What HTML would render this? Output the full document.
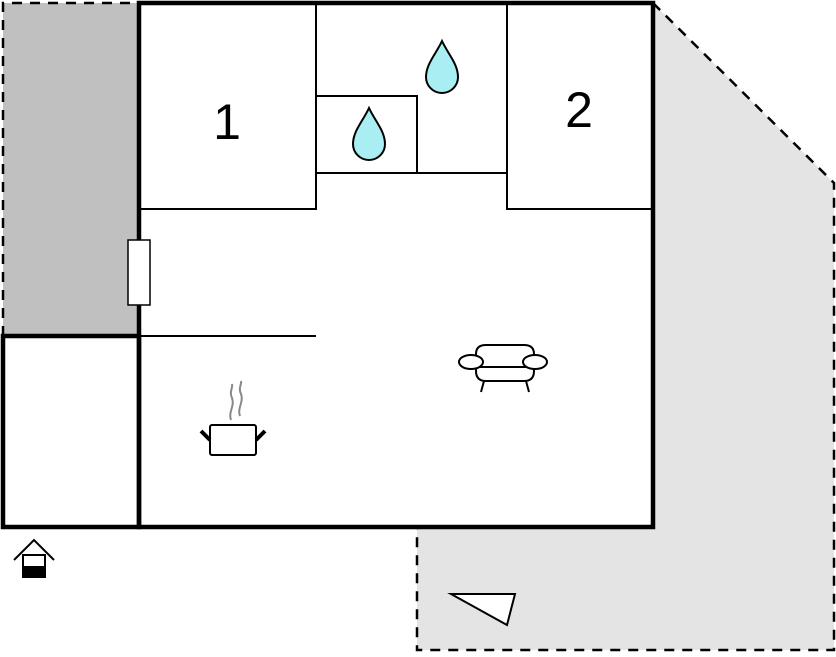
<!DOCTYPE html>
<html><head><style>body{margin:0;background:#fff}</style></head><body>
<svg width="836" height="652" viewBox="0 0 836 652" xmlns="http://www.w3.org/2000/svg">
<polygon points="653,3 834,183 834,650 417,650 417,527 653,527" fill="#e4e4e4"/>
<polyline points="653,3 834,183 834,650 417,650 417,527" fill="none" stroke="#000" stroke-width="2.5" stroke-dasharray="10,8"/>
<rect x="3" y="3" width="136" height="333" fill="#c0c0c0"/>
<polyline points="3,336 3,3 139,3" fill="none" stroke="#000" stroke-width="2.5" stroke-dasharray="10,8"/>
<rect x="139" y="3" width="514" height="524" fill="#fff"/>
<rect x="3" y="336" width="136" height="191" fill="#fff"/>
<g stroke="#000" stroke-width="2" fill="none">
<polyline points="316,3 316,209 139,209"/>
<polyline points="507,3 507,209 653,209"/>
<line x1="316" y1="173" x2="507" y2="173"/>
<polyline points="316,96 417,96 417,173"/>
<line x1="139" y1="336" x2="316" y2="336"/>
</g>
<rect x="139" y="3" width="514" height="524" fill="none" stroke="#000" stroke-width="4.5"/>
<rect x="3" y="336" width="136" height="191" fill="none" stroke="#000" stroke-width="4.5"/>
<line x1="139" y1="336" x2="139" y2="527" stroke="#000" stroke-width="2"/>
<rect x="128" y="240" width="22" height="65" fill="#fff" stroke="#000" stroke-width="1.5"/>
<text x="227" y="139" font-family="Liberation Sans, sans-serif" font-size="50" text-anchor="middle">1</text>
<text x="579" y="127" font-family="Liberation Sans, sans-serif" font-size="50" text-anchor="middle">2</text>
<path d="M442,41 C436,54 426,64 426,77 A16,16 0 0 0 458,77 C458,64 448,54 442,41Z" fill="#a8eef2" stroke="#000" stroke-width="2"/>
<path d="M369,108 C363,121 353,131 353,144 A16,16 0 0 0 385,144 C385,131 375,121 369,108Z" fill="#a8eef2" stroke="#000" stroke-width="2"/>
<g stroke="#000" stroke-width="2" fill="#fff">
<path d="M476,371 L476,354 Q476,345 486,345 L524,345 Q534,345 534,354 L534,371 Q534,381 524,381 L486,381 Q476,381 476,371Z"/>
<line x1="476" y1="367" x2="534" y2="367"/>
<ellipse cx="471" cy="362" rx="12" ry="7"/>
<ellipse cx="535" cy="362" rx="12" ry="7"/>
<line x1="484" y1="381" x2="481" y2="392"/>
<line x1="526" y1="381" x2="529" y2="392"/>
<rect x="210" y="425" width="46" height="30" rx="2"/>
</g>
<line x1="201" y1="431" x2="210" y2="440" stroke="#000" stroke-width="4"/>
<line x1="265" y1="431" x2="256" y2="440" stroke="#000" stroke-width="4"/>
<path d="M231,420 C228,412 235,406 232,398 C229,392 233,388 232,384" fill="none" stroke="#888" stroke-width="2"/>
<path d="M240,416 C237,408 244,402 241,394 C238,388 242,384 241,381" fill="none" stroke="#888" stroke-width="2"/>
<polyline points="14,560 34,540 54,560" fill="none" stroke="#000" stroke-width="2"/>
<rect x="23" y="555" width="22" height="22" fill="#fff" stroke="#000" stroke-width="2"/>
<rect x="23" y="566" width="22" height="11" fill="#000"/>
<polygon points="451,594 515,594 507,625" fill="#fff" stroke="#000" stroke-width="2"/>
</svg>
</body></html>
